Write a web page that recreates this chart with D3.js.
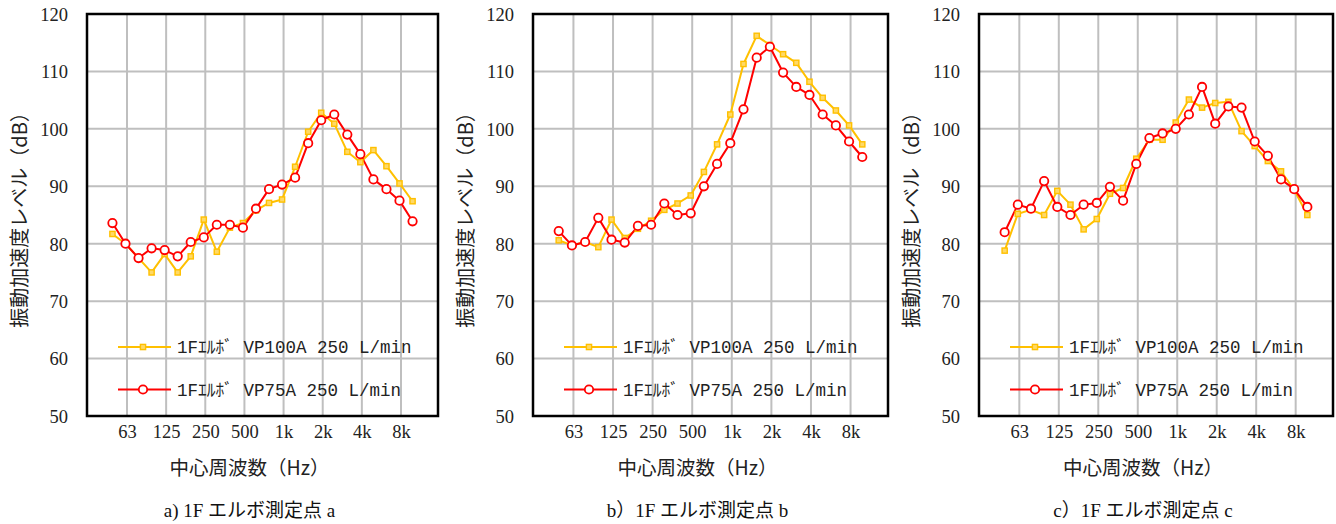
<!DOCTYPE html>
<html>
<head>
<meta charset="utf-8">
<script src="https://cdn.jsdelivr.net/npm/d3@7/dist/d3.min.js"></script>
<style>
  html, body { margin: 0; padding: 0; background: #fff; }
  svg { display: block; }
</style>
</head>
<body>
<svg id="chart" width="1336" height="524"></svg>
<script>
// 1/3-octave centre frequencies (Hz)
const bands = ["50","63","80","100","125","160","200","250","315","400","500","630","800",
               "1k","1.25k","1.6k","2k","2.5k","3.15k","4k","5k","6.3k","8k","10k"];
// Labelled octave bands on the frequency axis
const tickBands = ["63","125","250","500","1k","2k","4k","8k"];
const yTicks = [50, 60, 70, 80, 90, 100, 110, 120];

const seriesNames = ["1Fｴﾙﾎﾞ VP100A 250 L/min", "1Fｴﾙﾎﾞ VP75A 250 L/min"];

// Measurement point a
const pointA_VP100A = [81.7, 80.0, 77.5, 75.0, 78.2, 75.0, 77.8, 84.2, 78.6, 82.8, 83.6, 85.8,
                       87.1, 87.7, 93.4, 99.5, 102.8, 100.9, 96.0, 94.2, 96.3, 93.5, 90.5, 87.4];
const pointA_VP75A  = [83.6, 80.0, 77.5, 79.2, 78.9, 77.8, 80.3, 81.1, 83.3, 83.3, 82.8, 86.1,
                       89.5, 90.3, 91.5, 97.5, 101.5, 102.5, 99.0, 95.6, 91.2, 89.5, 87.5, 83.9];
// Measurement point b
const pointB_VP100A = [80.6, 79.7, 80.3, 79.4, 84.2, 81.0, 82.6, 84.0, 85.9, 87.0, 88.4, 92.5,
                       97.3, 102.5, 111.3, 116.2, 114.6, 113.0, 111.5, 108.2, 105.4, 103.2, 100.6, 97.3];
const pointB_VP75A  = [82.2, 79.7, 80.3, 84.5, 80.7, 80.2, 83.1, 83.3, 87.0, 85.0, 85.3, 90.0,
                       93.9, 97.5, 103.4, 112.4, 114.3, 109.8, 107.3, 105.9, 102.5, 100.6, 97.8, 95.1];
// Measurement point c
const pointC_VP100A = [78.8, 85.2, 85.9, 85.0, 89.2, 86.8, 82.5, 84.3, 88.7, 89.7, 94.8, 98.1,
                       98.1, 101.1, 105.1, 103.7, 104.5, 104.7, 99.6, 97.0, 94.4, 92.6, 89.4, 85.0];
const pointC_VP75A  = [82.0, 86.8, 86.1, 90.9, 86.4, 85.0, 86.8, 87.1, 89.9, 87.5, 93.9, 98.4,
                       99.2, 100.0, 102.5, 107.3, 100.9, 103.9, 103.7, 97.8, 95.3, 91.2, 89.5, 86.4];

const captions = ["a) 1F エルボ測定点 a", "b）1F エルボ測定点 b", "c）1F エルボ測定点 c"];

const panels = [
  { left: 87,  width: 351, caption: captions[0], series: [pointA_VP100A, pointA_VP75A] },
  { left: 533, width: 355, caption: captions[1], series: [pointB_VP100A, pointB_VP75A] },
  { left: 979, width: 354, caption: captions[2], series: [pointC_VP100A, pointC_VP75A] }
];

const colors = ["#FFC000", "#FF0000"];
const plotTop = 14, plotBottom = 416;
const serif = "'Liberation Serif', 'Noto Sans CJK JP', serif";
const cjk = "'Noto Sans CJK JP', 'Liberation Serif', sans-serif";
const mono = "'Liberation Mono', 'Noto Sans CJK JP', monospace";

const svg = d3.select("#chart");

function drawMarker(g, i, x, y) {
  if (i === 0) {
    g.append("rect")
      .attr("x", x - 2.6).attr("y", y - 2.6)
      .attr("width", 5.2).attr("height", 5.2)
      .attr("fill", "#FFD966").attr("stroke", colors[0]).attr("stroke-width", 1.4);
  } else {
    g.append("circle")
      .attr("cx", x).attr("cy", y).attr("r", 4.2)
      .attr("fill", "#fff").attr("stroke", colors[1]).attr("stroke-width", 1.8);
  }
}

panels.forEach(p => {
  const g = svg.append("g");
  const plotW = p.width;
  const x = d3.scalePoint().domain(bands).range([p.left, p.left + plotW]).padding(1.95);
  const y = d3.scaleLinear().domain([50, 120]).range([plotBottom, plotTop]);
  const gridShift = 1.5;

  // grid
  g.append("g").selectAll("line").data(yTicks.slice(1, -1)).join("line")
    .attr("x1", p.left).attr("x2", p.left + plotW)
    .attr("y1", d => y(d)).attr("y2", d => y(d))
    .attr("stroke", "#BFBFBF").attr("stroke-width", 2);
  g.append("g").selectAll("line").data(tickBands).join("line")
    .attr("x1", d => x(d) + gridShift).attr("x2", d => x(d) + gridShift)
    .attr("y1", plotTop).attr("y2", plotBottom)
    .attr("stroke", "#BFBFBF").attr("stroke-width", 2);

  // y axis labels
  const yAxis = g.append("g")
    .attr("transform", `translate(${p.left - 19},0)`)
    .call(d3.axisLeft(y).tickValues(yTicks).tickSize(0).tickPadding(0));
  yAxis.select(".domain").remove();
  yAxis.selectAll("text")
    .attr("font-family", serif).attr("font-size", 18.5).attr("fill", "#222")
    .attr("dy", "0.34em");

  // x axis labels
  const xAxis = g.append("g")
    .attr("transform", `translate(${gridShift},${plotBottom})`)
    .call(d3.axisBottom(x).tickValues(tickBands).tickSize(0).tickPadding(0));
  xAxis.select(".domain").remove();
  xAxis.selectAll("text")
    .attr("font-family", serif).attr("font-size", 18.5).attr("fill", "#222")
    .attr("dy", "0").attr("y", 22);

  // series
  p.series.forEach((vals, i) => {
    const line = d3.line().x((d, k) => x(bands[k])).y(d => y(d));
    g.append("path").datum(vals)
      .attr("d", line).attr("fill", "none")
      .attr("stroke", colors[i]).attr("stroke-width", 2).attr("stroke-linejoin", "round");
  });
  p.series.forEach((vals, i) => {
    vals.forEach((v, k) => drawMarker(g, i, x(bands[k]), y(v)));
  });

  // legend
  const legY = [347, 389.5];
  seriesNames.forEach((name, i) => {
    const ly = legY[i];
    g.append("line")
      .attr("x1", p.left + 31).attr("x2", p.left + 84)
      .attr("y1", ly).attr("y2", ly)
      .attr("stroke", colors[i]).attr("stroke-width", 2);
    drawMarker(g, i, p.left + 56, ly);
    g.append("text")
      .attr("x", p.left + 90).attr("y", ly)
      .attr("dy", "0.36em")
      .attr("font-family", mono).attr("font-size", 17.5).attr("fill", "#222")
      .text(name);
  });

  // frame
  g.append("rect")
    .attr("x", p.left).attr("y", plotTop)
    .attr("width", plotW).attr("height", plotBottom - plotTop)
    .attr("fill", "none").attr("stroke", "#000").attr("stroke-width", 2.5);

  // axis titles
  const cx = p.left + plotW / 2 - 13;
  g.append("text")
    .attr("transform", `translate(${p.left - 67},${(plotTop + plotBottom) / 2}) rotate(-90)`)
    .attr("text-anchor", "middle").attr("dy", "0.35em")
    .attr("font-family", cjk).attr("font-size", 20).attr("fill", "#222")
    .text("振動加速度レベル（dB）");
  g.append("text")
    .attr("x", cx).attr("y", 468).attr("text-anchor", "middle").attr("dy", "0.35em")
    .attr("font-family", cjk).attr("font-size", 19.5).attr("fill", "#222")
    .text("中心周波数（Hz）");
  g.append("text")
    .attr("x", cx).attr("y", 510).attr("text-anchor", "middle").attr("dy", "0.35em")
    .attr("font-family", serif).attr("font-size", 19).attr("fill", "#111")
    .text(p.caption);
});
</script>
</body>
</html>
